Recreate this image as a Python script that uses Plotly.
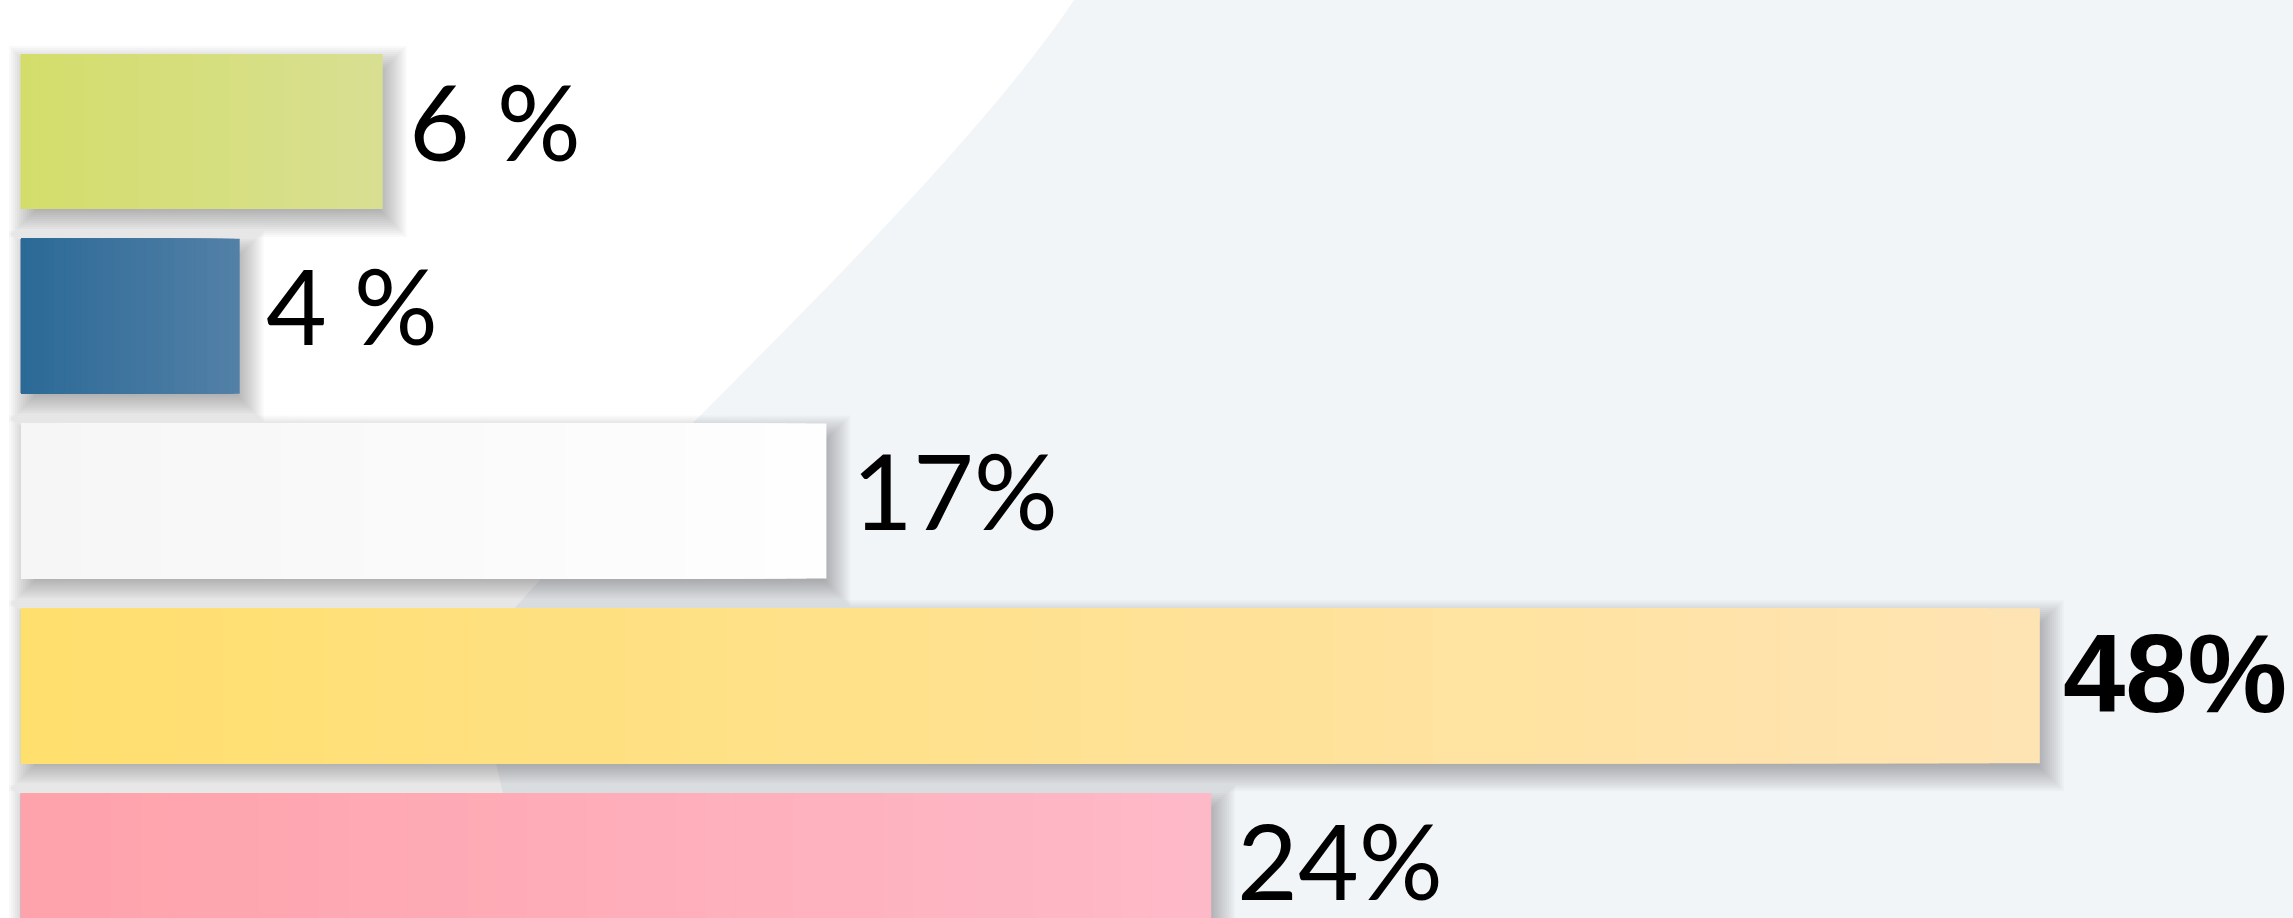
import plotly.graph_objects as go

# ---- data ----
categories = ["A", "B", "C", "D", "E"]
label_values = [6, 4, 17, 48, 24]                 # printed values (%)
label_texts = ["6 %", "4 %", "17%", "48%", "24%"]
bar_lengths = [8.6, 5.2, 19.15, 48.0, 28.3]      # drawn bar lengths (axis units, 48 = the 48% bar)
bold_flags = [False, False, False, True, False]

start_colors = [(211, 222, 106), (43, 106, 150), (246, 246, 246), (255, 223, 109), (254, 162, 171)]
end_colors = [(217, 223, 146), (83, 128, 167), (254, 254, 254), (255, 228, 180), (254, 185, 200)]

positions = list(range(len(categories)))
BAR_W = 0.839
N_STEPS = 40

W, H = 2293, 918
X_RANGE = [-0.499, 54.02]
Y_RANGE = [4.2571, -0.7118]
PX_X = W / (X_RANGE[1] - X_RANGE[0])      # pixels per x unit
PX_Y = H / (Y_RANGE[0] - Y_RANGE[1])      # pixels per y unit

fig = go.Figure()

# ---- soft drop shadows (stack of growing translucent rectangles) ----
dx, dy = 6, 10
for e in range(18, -12, -2):
    base = (dx - e) / PX_X
    fig.add_trace(go.Bar(
        y=[p + dy / PX_Y for p in positions],
        x=[L + (dx + e) / PX_X - base for L in bar_lengths],
        base=base,
        width=BAR_W + 2 * e / PX_Y,
        orientation="h",
        marker=dict(color="rgba(30,40,50,0.026)", line=dict(width=0)),
        hoverinfo="skip", showlegend=False,
    ))

# ---- gradient bars (overlay of progressively shorter bars) ----
def mix(a, b, t):
    return "rgb(%d,%d,%d)" % tuple(round(a[i] + (b[i] - a[i]) * t) for i in range(3))

for k in range(N_STEPS, 0, -1):
    t = (k - 0.5) / N_STEPS
    fig.add_trace(go.Bar(
        y=positions,
        x=[L * k / N_STEPS for L in bar_lengths],
        width=BAR_W,
        orientation="h",
        marker=dict(color=[mix(s, e, t) for s, e in zip(start_colors, end_colors)],
                    line=dict(width=0)),
        hoverinfo="skip", showlegend=False,
    ))

# ---- value labels ----
for p, L, txt, b in zip(positions, bar_lengths, label_texts, bold_flags):
    fig.add_annotation(
        x=L, y=p, text=txt, showarrow=False,
        xanchor="left", yanchor="middle",
        xshift=21 if b else 24, yshift=12,
        font=dict(family="Liberation Sans" if b else "Lato",
                  size=112 if b else 105, color="black",
                  weight="bold" if b else "normal"),
    )

# ---- decorative background region ----
def P(x, y):
    return "%.4f,%.4f" % (x / W, 1 - y / H)
bg_path = ("M " + P(1074, 0) + " C " + P(940, 200) + " " + P(620, 480) + " " + P(487, 640) +
           " C " + P(470, 700) + " " + P(510, 800) + " " + P(530, 918) +
           " L " + P(2293, 918) + " L " + P(2293, 0) + " Z")

fig.update_layout(
    width=W, height=H,
    margin=dict(l=0, r=0, t=0, b=0),
    barmode="overlay",
    paper_bgcolor="white",
    plot_bgcolor="rgba(0,0,0,0)",
    showlegend=False,
    shapes=[dict(type="path", xref="paper", yref="paper", path=bg_path,
                 fillcolor="#f2f5f8", line=dict(width=0), layer="below")],
    xaxis=dict(range=X_RANGE, visible=False, fixedrange=True),
    yaxis=dict(range=Y_RANGE, visible=False, fixedrange=True),
    hovermode=False,
)

fig.write_html("out.html", config={"displayModeBar": False},
               post_script="document.body.style.margin='0';document.body.style.overflow='hidden';")
